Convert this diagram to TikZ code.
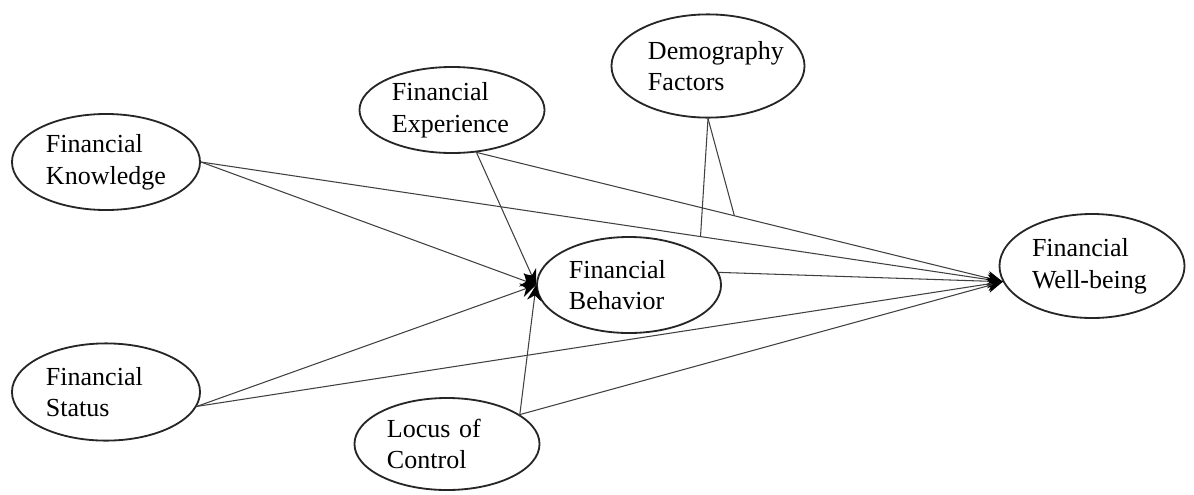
\documentclass[tikz,border=0pt]{standalone}
\usepackage{fontspec}
\setmainfont{Liberation Serif}
\usetikzlibrary{shapes.geometric, arrows.meta, positioning}

\begin{document}
\begin{tikzpicture}[x=0.025cm, y=-0.025cm,
  construct/.style={ellipse, draw=black!85, line width=1.3pt, inner sep=0pt, text width=3cm, align=left, font=\fontsize{18.5}{22.5}\selectfont},
  link/.style={draw=black!75, line width=0.75pt, -{Stealth[length=11pt, width=10pt, black]}},
  moderate/.style={draw=black!75, line width=0.75pt}]
\useasboundingbox (0,0) rectangle (1194,494);

% constructs
\node (know) [construct, minimum width=4.7cm, minimum height=2.4cm] at (106,162) {Financial\\Knowledge};
\node (exper) [construct, minimum width=4.625cm, minimum height=2.15cm] at (452,110) {Financial\\Experience};
\node (demo) [construct, minimum width=4.825cm, minimum height=2.58cm] at (708,66) {Demography\\Factors};
\node (behav) [construct, minimum width=4.6cm, minimum height=2.4cm] at (629,285) {Financial\\Behavior};
\node (well) [construct, minimum width=4.625cm, minimum height=2.6cm] at (1092,266) {Financial\\Well-being};
\node (status) [construct, minimum width=4.7cm, minimum height=2.43cm] at (106,392) {Financial\\Status};
\node (locus) [construct, minimum width=4.625cm, minimum height=2.3cm] at (447,444) {Locus of\\Control};

% paths into behavior
\draw[link] (know.east) -- (behav.west);
\draw[link] (exper.-60) -- (behav.west);
\draw[link] (status.-9) -- (behav.west);
\draw[link] (locus.22) -- (behav.west);

% paths into well-being
\draw[link] (know.east) -- coordinate[pos=.623] (modk) (well.190);
\draw[link] (exper.-60) -- coordinate[pos=.49] (mode) (well.190);
\draw[link] (behav.8) -- (well.190);
\draw[link] (status.-9) -- (well.190);
\draw[link] (locus.22) -- (well.190);

% demography as moderator
\draw[moderate] (demo.south) -- (modk);
\draw[moderate] (demo.south) -- (mode);
\end{tikzpicture}
\end{document}
